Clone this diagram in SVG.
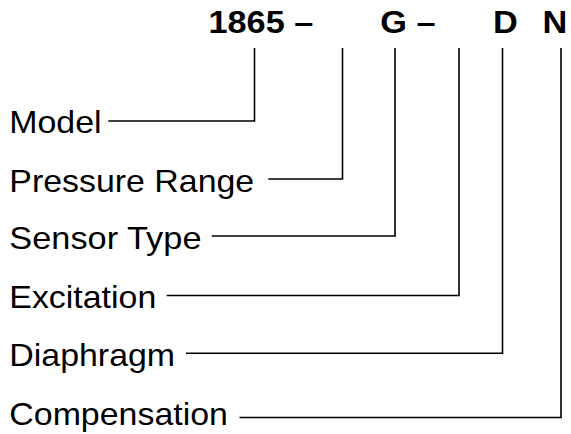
<svg xmlns="http://www.w3.org/2000/svg" width="571" height="434" viewBox="0 0 571 434">
<style>
.lbl{font-family:"Liberation Sans",Arial,sans-serif;font-size:31.5px;fill:#000}
.hdr{font-family:"Liberation Sans",Arial,sans-serif;font-size:31px;font-weight:bold;fill:#000}
.conn{fill:none;stroke:#000;stroke-width:1.6}
</style>
<rect width="571" height="434" fill="#fff"/>
<g id="header">
<text class="hdr" x="208.5" y="33" textLength="104.8" lengthAdjust="spacingAndGlyphs">1865 –</text>
<text class="hdr" x="380.2" y="33" textLength="55.3" lengthAdjust="spacingAndGlyphs">G –</text>
<text class="hdr" x="493.1" y="33" textLength="24.8" lengthAdjust="spacingAndGlyphs">D</text>
<text class="hdr" x="542.5" y="33" textLength="24.8" lengthAdjust="spacingAndGlyphs">N</text>
</g>
<g id="model"><text class="lbl" x="9.3" y="133" textLength="92.3" lengthAdjust="spacingAndGlyphs">Model</text></g>
<g id="pressure-range"><text class="lbl" x="9.3" y="191.5" textLength="244.9" lengthAdjust="spacingAndGlyphs">Pressure Range</text></g>
<g id="sensor-type"><text class="lbl" x="9.3" y="248.5" textLength="192.2" lengthAdjust="spacingAndGlyphs">Sensor Type</text></g>
<g id="excitation"><text class="lbl" x="9.3" y="308" textLength="147" lengthAdjust="spacingAndGlyphs">Excitation</text></g>
<g id="diaphragm"><text class="lbl" x="9.3" y="366" textLength="165.8" lengthAdjust="spacingAndGlyphs">Diaphragm</text></g>
<g id="compensation"><text class="lbl" x="9.3" y="425" textLength="218.6" lengthAdjust="spacingAndGlyphs">Compensation</text></g>
<g id="connectors">
<polyline class="conn" points="108.3,121 254.5,121 254.5,48"/>
<polyline class="conn" points="268.3,179 342.5,179 342.5,48"/>
<polyline class="conn" points="211.7,236 395,236 395,48"/>
<polyline class="conn" points="166.7,295.5 459,295.5 459,48"/>
<polyline class="conn" points="186,353.3 502.5,353.3 502.5,48"/>
<polyline class="conn" points="239.5,417.5 561,417.5 561,48"/>
</g>
</svg>
